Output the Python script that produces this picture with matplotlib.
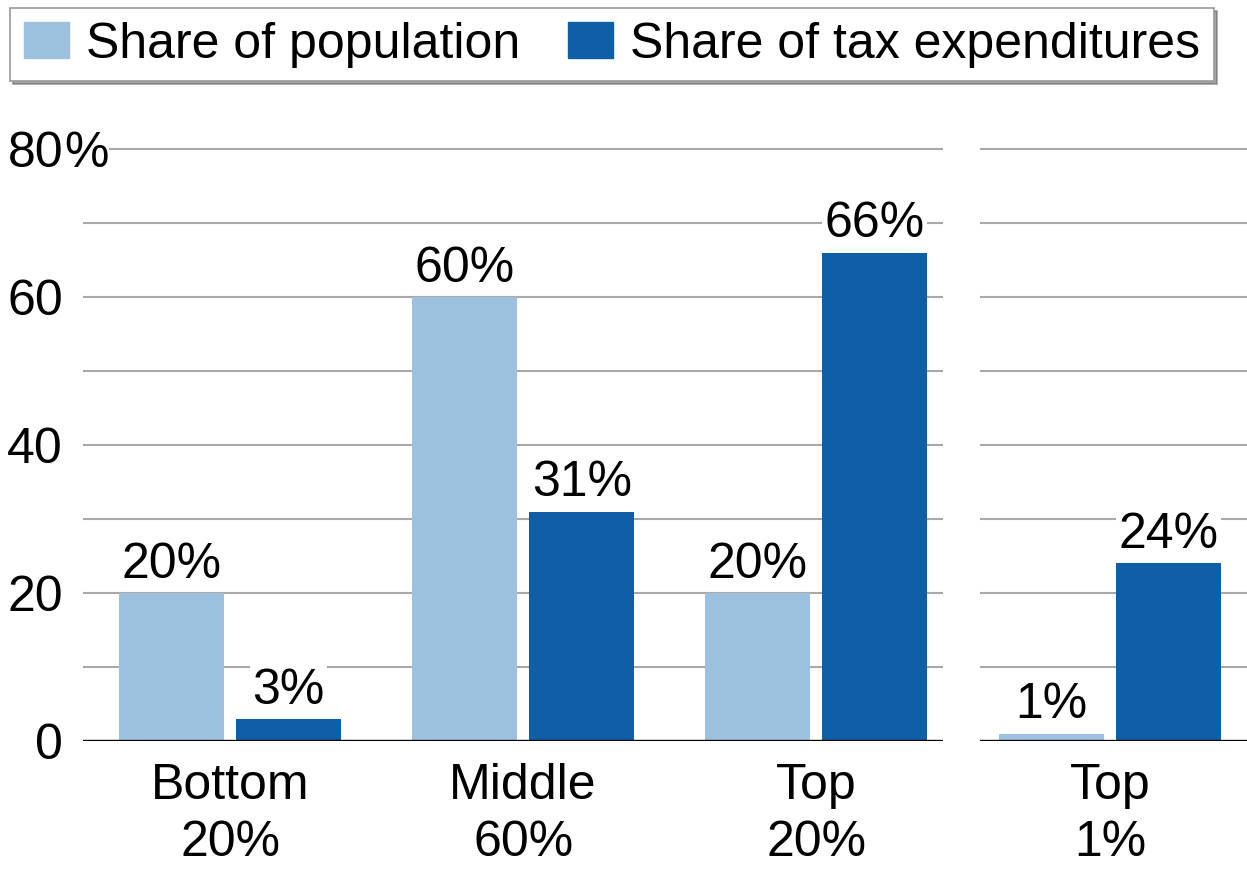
import matplotlib
matplotlib.use("Agg")
import matplotlib.pyplot as plt
from matplotlib.patches import Patch
from matplotlib.transforms import blended_transform_factory

plt.rcParams["font.family"] = ["Liberation Sans", "DejaVu Sans"]

# Income groups and their shares (percent)
groups = ["Bottom\n20%", "Middle\n60%", "Top\n20%"]
pop_share = [20, 60, 20]
tax_share = [3, 31, 66]

top1_group = ["Top\n1%"]
top1_pop = [1]
top1_tax = [24]

series_names = ["Share of population", "Share of tax expenditures"]
y_ticks = [0, 20, 40, 60, 80]
y_tick_labels = ["0", "20", "40", "60", "80"]

LIGHT = "#9dc0de"
DARK = "#0f5fa6"
GRID = "#a9a9a9"
FS = 36
W, H = 1247, 871

fig = plt.figure(figsize=(W / 100, H / 100), dpi=100)
ax1 = fig.add_axes([83 / W, 1 - 741 / H, 860 / W, 606.8 / H])
ax2 = fig.add_axes([980 / W, 1 - 741 / H, 267 / W, 606.8 / H])

bw = 0.36
off = 0.2


def draw(ax, labels, pops, taxes, xlim):
    xs = list(range(len(labels)))
    b1 = ax.bar([x - off for x in xs], pops, width=bw, color=LIGHT, zorder=2)
    b2 = ax.bar([x + off for x in xs], taxes, width=bw, color=DARK, zorder=2)
    for bars, vals in ((b1, pops), (b2, taxes)):
        for rect, v in zip(bars, vals):
            ax.annotate(f"{v}%", xy=(rect.get_x() + rect.get_width() / 2, v),
                        xytext=(0, 11), textcoords="offset points",
                        ha="center", va="baseline", fontsize=FS, zorder=4,
                        bbox=dict(boxstyle="square,pad=0.05", fc="white", ec="none"))
    ax.set_xlim(*xlim)
    ax.set_ylim(0, 82)
    ax.set_xticks(xs)
    ax.set_xticklabels(labels, fontsize=FS, linespacing=1.3)
    ax.set_yticks(range(10, 90, 10))
    ax.grid(axis="y", color=GRID, lw=1.5, zorder=0)
    ax.axhline(0, color="black", lw=2.4, zorder=3)
    for s in ax.spines.values():
        s.set_visible(False)
    ax.tick_params(axis="both", length=0)
    ax.tick_params(axis="x", pad=16)
    return b1, b2


b1, b2 = draw(ax1, groups, pop_share, tax_share, (-0.502, 2.433))
draw(ax2, top1_group, top1_pop, top1_tax, (-0.4437, 0.4676))

ax1.set_yticks(y_ticks)
ax1.set_yticks(range(10, 90, 20), minor=True)
ax1.grid(axis="y", which="both", color=GRID, lw=1.5, zorder=0)
ax1.set_yticklabels(y_tick_labels, fontsize=FS)
ax1.tick_params(axis="y", which="both", length=0, pad=14.4)
ax2.set_yticklabels([])

# percent sign on the top tick label, masking the start of the top gridline
tr = blended_transform_factory(ax1.transAxes, ax1.transData)
ax1.annotate("%", xy=(0, 80), xycoords=tr, xytext=(-13.2, 0),
             textcoords="offset points", ha="left", va="center_baseline",
             fontsize=FS, annotation_clip=False, zorder=5,
             bbox=dict(boxstyle="square,pad=0.0", fc="white", ec="none"))

handles = [Patch(color=LIGHT), Patch(color=DARK)]
leg = fig.legend(handles, series_names, loc="upper left",
                 bbox_to_anchor=(10 / W, 1 - 8 / H), borderaxespad=0,
                 ncol=2, fontsize=FS, frameon=True, fancybox=False,
                 shadow=True, handlelength=0.9, handleheight=0.75,
                 handletextpad=0.35, columnspacing=0.95, borderpad=0.27)
leg.get_frame().set_edgecolor("#9a9a9a")
leg.get_frame().set_linewidth(1.2)

fig.savefig("out.png", dpi=100)
